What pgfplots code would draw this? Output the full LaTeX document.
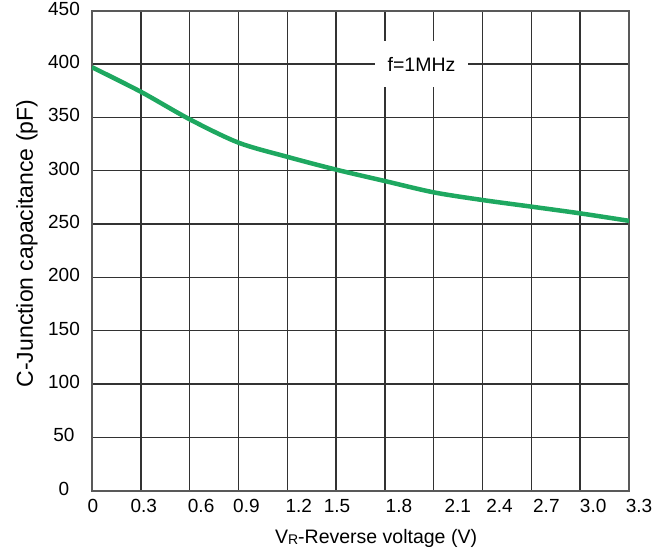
\documentclass[border=0pt]{standalone}
\usepackage{fontspec}
\setmainfont{Liberation Sans}
\usepackage{pgfplots}
\pgfplotsset{compat=1.18}
\definecolor{curvegreen}{RGB}{30,168,96}
\definecolor{gridc}{RGB}{50,50,50}
\newcommand{\xs}[2]{\hspace*{#1}#2}
\begin{document}
\begin{tikzpicture}
\begin{axis}[
  name=ax, scale only axis, width=537bp, height=480bp,
  xmin=0, xmax=3.3, ymin=0, ymax=450,
  xtick={0,0.3,0.6,0.9,1.2,1.5,1.8,2.1,2.4,2.7,3.0,3.3},
  xticklabels={\xs{2bp}{0},\xs{6bp}{0.3},\xs{23bp}{0.6},\xs{16bp}{0.9},\xs{23bp}{1.2},\xs{2bp}{1.5},\xs{28bp}{1.8},\xs{48bp}{2.1},\xs{34bp}{2.4},\xs{30bp}{2.7},\xs{26bp}{3.0},\xs{20bp}{3.3}},
  ytick={0,50,100,150,200,250,300,350,400,450},
  yticklabels={0,50,100,150,200,250,300,350,400,450},
  grid=major, major grid style={gridc, line width=1.5bp},
  axis line style={black!65, line width=2bp},
  major tick length=0pt,
  tick label style={font=\fontsize{19bp}{22bp}\selectfont},
  xticklabel style={yshift=-5bp},
  yticklabel style={anchor=center, xshift=-28bp, yshift=2bp},
  xlabel={V{\raisebox{-1.5bp}{\fontsize{14bp}{16bp}\selectfont R}}-Reverse voltage (V)},
  ylabel={C-Junction capacitance (pF)},
  xlabel style={font=\fontsize{19.5bp}{22bp}\selectfont, at={(rel axis cs:0.529,-0.0985)}, anchor=center},
  ylabel style={font=\fontsize{23bp}{26bp}\selectfont, at={(rel axis cs:-0.121,0.515)}, anchor=center},
]
\addplot[curvegreen, line width=4.5bp, smooth] coordinates {
  (0,397) (0.3,374) (0.6,348.2) (0.9,326.3) (1.2,313) (1.5,301) (1.8,290.3)
  (2.1,279.7) (2.4,272.5) (2.7,266.3) (3.0,260) (3.3,253)
};
\node[fill=white, minimum width=93bp, minimum height=46bp, inner sep=0pt,
      font=\fontsize{19.5bp}{22bp}\selectfont] at (axis cs:2.025,400) {f=1MHz};
\end{axis}
\pgfresetboundingbox
\useasboundingbox ([shift={(-92bp,-68.3bp)}]ax.south west) rectangle ([shift={(41bp,10.7bp)}]ax.north east);
\end{tikzpicture}
\end{document}
